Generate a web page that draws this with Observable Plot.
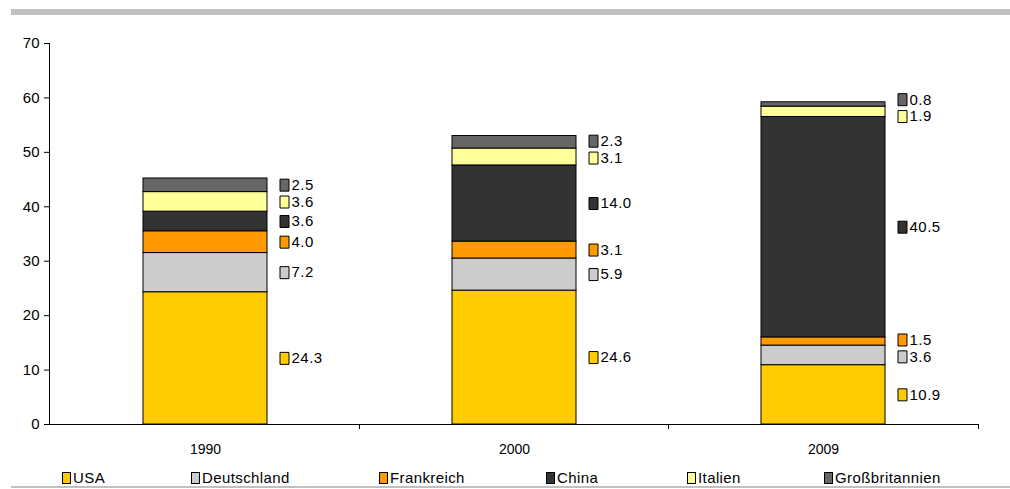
<!DOCTYPE html>
<html>
<head>
<meta charset="utf-8">
<script src="https://cdn.jsdelivr.net/npm/d3@7"></script>
<script src="https://cdn.jsdelivr.net/npm/@observablehq/plot@0.6"></script>
<style>
  body { margin: 0; background: #fff; font-family: "Liberation Sans", Arial, sans-serif; }
  #topbar { position: absolute; left: 11px; top: 9px; width: 999px; height: 6px; background: #C0C0C0; }
  #chart { position: absolute; left: 0; top: 20px; }
  #legend { position: absolute; left: 0; top: 469px; width: 1010px; height: 16px; }
  .li { position: absolute; top: 0; display: flex; align-items: center; font-size: 15px; letter-spacing: 0.4px; color: #000; white-space: nowrap; }
  .sw { width: 9px; height: 12px; box-sizing: border-box; border: 1px solid #000; margin-right: 2px; }
  #bottomline { position: absolute; left: 11px; top: 486px; width: 999px; height: 2px; background: #C0C0C0; }
</style>
</head>
<body>
<div id="topbar"></div>
<div id="chart"></div>
<div id="legend"></div>
<div id="bottomline"></div>
<script>
// ---- data ----
const years = ["1990", "2000", "2009"];
const series = ["USA", "Deutschland", "Frankreich", "China", "Italien", "Großbritannien"];
const colors = ["#FFCC00", "#CCCCCC", "#FF9900", "#333333", "#FFFF99", "#666666"];
const USA = [24.3, 24.6, 10.9];
const Deutschland = [7.2, 5.9, 3.6];
const Frankreich = [4.0, 3.1, 1.5];
const China = [3.6, 14.0, 40.5];
const Italien = [3.6, 3.1, 1.9];
const Grossbritannien = [2.5, 2.3, 0.8];
const yTicks = [0, 10, 20, 30, 40, 50, 60, 70];

const valuesBySeries = [USA, Deutschland, Frankreich, China, Italien, Grossbritannien];

// long table
const rows = [];
years.forEach((yr, yi) => {
  series.forEach((s, si) => rows.push({year: yr, series: s, value: valuesBySeries[si][yi]}));
});

// label positions: stack midpoints, pushed apart to avoid overlap
const labels = [];
const gap = 3.1;
years.forEach((yr, yi) => {
  let cum = 0;
  const ls = series.map((s, si) => {
    const v = valuesBySeries[si][yi];
    const mid = cum + v / 2;
    cum += v;
    return {year: yr, series: s, value: v, ly: mid};
  });
  for (let it = 0; it < 20; it++) {
    for (let i = 1; i < ls.length; i++) {
      const d = ls[i].ly - ls[i - 1].ly;
      if (d < gap) {
        const c = (ls[i].ly + ls[i - 1].ly) / 2;
        ls[i - 1].ly = c - gap / 2;
        ls[i].ly = c + gap / 2;
      }
    }
  }
  labels.push(...ls);
});

const rectSymbol = {
  draw(context) {
    context.moveTo(-4.5, -6);
    context.lineTo(4.5, -6);
    context.lineTo(4.5, 6);
    context.lineTo(-4.5, 6);
    context.closePath();
  }
};

const W = 1010, H = 445, mL = 49, mR = 32, mT = 23, mB = 41;

const axesMark = (index, scales, values, dimensions) => {
  const {width, height, marginLeft, marginRight, marginTop, marginBottom} = dimensions;
  const g = d3.create("svg:g").attr("stroke", "#000").attr("stroke-width", 1).attr("shape-rendering", "crispEdges");
  g.append("line").attr("x1", marginLeft + 0.5).attr("x2", marginLeft + 0.5)
    .attr("y1", marginTop).attr("y2", height - marginBottom);
  const step = (width - marginLeft - marginRight) / years.length;
  for (let k = 1; k <= years.length; k++) {
    const x = Math.round(marginLeft + k * step) + 0.5;
    g.append("line").attr("x1", x).attr("x2", x)
      .attr("y1", height - marginBottom).attr("y2", height - marginBottom + 5);
  }
  return g.node();
};

const plot = Plot.plot({
  width: W,
  height: H,
  marginLeft: mL,
  marginRight: mR,
  marginTop: mT,
  marginBottom: mB,
  style: {fontFamily: "'Liberation Sans', Arial, sans-serif", background: "#fff", color: "#000"},
  x: {domain: years, paddingInner: 0.6, paddingOuter: 0.3, label: null},
  y: {domain: [0, 70], label: null},
  color: {domain: series, range: colors},
  marks: [
    Plot.barY(rows, {x: "year", y: "value", fill: "series", stroke: "#000", strokeWidth: 1, order: null}),
    Plot.ruleY([0], {stroke: "#000", strokeWidth: 1}),
    Plot.axisY({ticks: yTicks, tickSize: 5, tickPadding: 5, fontSize: 15, label: null, tickFormat: d => String(d)}),
    Plot.axisX({tickSize: 0, tickPadding: 20, fontSize: 14, label: null}),
    axesMark,
    Plot.dot(labels, {x: "year", y: "ly", symbol: rectSymbol, fill: "series", stroke: "#000", strokeWidth: 1, dx: 79, r: 5}),
    Plot.text(labels, {x: "year", y: "ly", text: d => d.value.toFixed(1), dx: 86, textAnchor: "start", fontSize: 15, fill: "#000", style: "letter-spacing:0.5px"})
  ]
});
document.getElementById("chart").appendChild(plot);
plot.querySelectorAll("text").forEach(t => {
  if (/^\d+\.\d$/.test(t.textContent)) t.setAttribute("letter-spacing", "0.5");
});

// legend
const legendX = [62, 191, 379, 546, 687, 824];
const legend = document.getElementById("legend");
series.forEach((s, i) => {
  const item = document.createElement("div");
  item.className = "li";
  item.style.left = legendX[i] + "px";
  const sw = document.createElement("div");
  sw.className = "sw";
  sw.style.background = colors[i];
  const t = document.createElement("span");
  t.textContent = s;
  item.appendChild(sw);
  item.appendChild(t);
  legend.appendChild(item);
});
</script>
</body>
</html>
